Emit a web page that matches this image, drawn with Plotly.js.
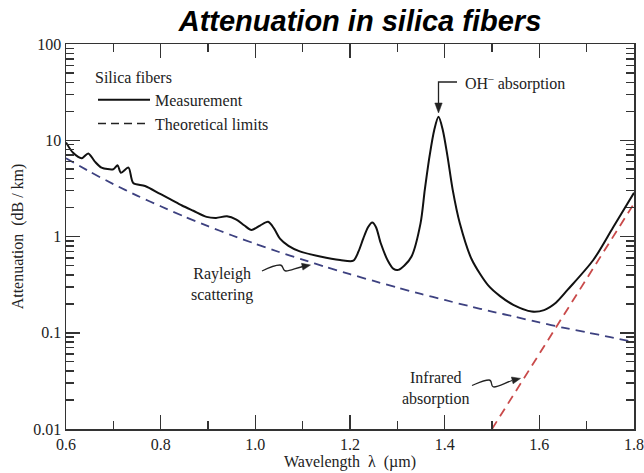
<!DOCTYPE html>
<html>
<head>
<meta charset="utf-8">
<script src="https://cdn.plot.ly/plotly-3.0.1.min.js"></script>
<style>html,body{margin:0;padding:0;background:#fff;}#chart{width:644px;height:473px;}</style>
</head>
<body>
<div id="chart"></div>
<script>
// Measured attenuation (dB/km) vs wavelength (µm)
var measWavelength = [0.600, 0.615, 0.633, 0.647, 0.661, 0.675, 0.700, 0.709, 0.716, 0.732, 0.742, 0.767, 0.799, 0.820, 0.845, 0.869, 0.897, 0.917, 0.940, 0.960, 0.977, 0.992, 1.010, 1.027, 1.040, 1.052, 1.070, 1.094, 1.137, 1.179, 1.207, 1.218, 1.228, 1.238, 1.247, 1.255, 1.265, 1.280, 1.292, 1.302, 1.315, 1.330, 1.349, 1.358, 1.368, 1.378, 1.387, 1.396, 1.406, 1.417, 1.432, 1.457, 1.492, 1.517, 1.545, 1.584, 1.610, 1.635, 1.660, 1.714, 1.756, 1.800];
var measAttenuation = [9.5, 7.4, 6.5, 7.3, 6.0, 5.2, 5.0, 5.5, 4.6, 5.2, 3.6, 3.35, 2.77, 2.45, 2.1, 1.85, 1.6, 1.56, 1.62, 1.5, 1.3, 1.17, 1.3, 1.42, 1.2, 0.95, 0.8, 0.70, 0.62, 0.57, 0.56, 0.7, 0.95, 1.25, 1.40, 1.25, 0.85, 0.56, 0.46, 0.45, 0.5, 0.62, 1.37, 3.05, 6.8, 12.8, 17.5, 12.8, 6.8, 3.05, 1.37, 0.58, 0.31, 0.24, 0.195, 0.166, 0.172, 0.205, 0.28, 0.57, 1.25, 2.85];

// Theoretical limit: Rayleigh scattering
var rayleighWavelength = [0.60, 0.65, 0.70, 0.75, 0.80, 0.85, 0.90, 0.95, 1.00, 1.05, 1.10, 1.15, 1.20, 1.25, 1.30, 1.35, 1.40, 1.45, 1.50, 1.55, 1.60, 1.65, 1.70, 1.75, 1.80];
var rayleighAttenuation = [6.5, 4.72, 3.5, 2.66, 2.06, 1.61, 1.28, 1.03, 0.84, 0.69, 0.575, 0.48, 0.406, 0.345, 0.295, 0.253, 0.219, 0.19, 0.166, 0.146, 0.128, 0.113, 0.101, 0.09, 0.080];

// Theoretical limit: Infrared absorption
var infraredWavelength = [1.50, 1.80];
var infraredAttenuation = [0.01, 2.2];

// Ticks
var xTickVals = [0.6, 0.8, 1.0, 1.2, 1.4, 1.6, 1.8];
var xTickText = ['0.6', '0.8', '1.0', '1.2', '1.4', '1.6', '1.8'];
var xMinorVals = [0.7, 0.9, 1.1, 1.3, 1.5, 1.7];
var yTickVals = [0.01, 0.1, 1, 10, 100];
var yTickText = ['0.01', '0.1', '1', '10', '100'];
var yMinorVals = [0.02,0.03,0.04,0.05,0.06,0.07,0.08,0.09,0.2,0.3,0.4,0.5,0.6,0.7,0.8,0.9,2,3,4,5,6,7,8,9,20,30,40,50,60,70,80,90];

var W = 644, H = 473;
var M = {l: 66, r: 10, t: 44, b: 44};
function px(x) { return (x - M.l) / (W - M.l - M.r); }
function py(y) { return (H - M.b - y) / (H - M.t - M.b); }
function curvePath(pts) {
  var s = 'M' + px(pts[0][0]) + ',' + py(pts[0][1]);
  for (var i = 1; i < pts.length; i += 3) {
    s += ' C' + px(pts[i][0]) + ',' + py(pts[i][1]) + ' ' + px(pts[i+1][0]) + ',' + py(pts[i+1][1]) + ' ' + px(pts[i+2][0]) + ',' + py(pts[i+2][1]);
  }
  return s;
}
function polyPath(pts) {
  var s = '';
  for (var i = 0; i < pts.length; i++) s += (i ? ' L' : 'M') + px(pts[i][0]) + ',' + py(pts[i][1]);
  return s + ' Z';
}

var serif = 'Liberation Serif, Times New Roman, serif';
var txtColor = '#222';
var ink = '#222';

var traces = [
  {
    x: rayleighWavelength, y: rayleighAttenuation, mode: 'lines', name: 'Rayleigh scattering',
    line: {color: '#3d4180', width: 1.8, dash: '9px,6px', shape: 'spline', smoothing: 0.6},
    showlegend: false
  },
  {
    x: infraredWavelength, y: infraredAttenuation, mode: 'lines', name: 'Infrared absorption',
    line: {color: '#c94a4a', width: 1.8, dash: '9px,6px'},
    showlegend: false
  },
  {
    x: measWavelength, y: measAttenuation, mode: 'lines', name: 'Measurement',
    line: {color: '#111', width: 2, shape: 'spline', smoothing: 0.8},
    showlegend: true
  },
  {
    x: [null], y: [null], mode: 'lines', name: 'Theoretical limits',
    line: {color: '#222', width: 1.6, dash: '8px,5px'},
    showlegend: true
  }
];

var layout = {
  width: W, height: H,
  margin: M,
  paper_bgcolor: '#fff', plot_bgcolor: '#fff',
  font: {family: serif, size: 16, color: txtColor},
  title: {
    text: 'Attenuation in silica fibers',
    font: {family: 'Liberation Sans, Arial, sans-serif', size: 29, weight: 'bold', style: 'italic', color: '#000'},
    x: 360 / 644, xref: 'container', xanchor: 'center',
    y: 1 - 21 / 473, yref: 'container', yanchor: 'middle'
  },
  showlegend: true,
  legend: {
    title: {text: 'Silica fibers', font: {family: serif, size: 16, color: txtColor}},
    x: px(93), y: py(62), xanchor: 'left', yanchor: 'top',
    bgcolor: 'rgba(0,0,0,0)', borderwidth: 0,
    font: {family: serif, size: 16, color: txtColor},
    itemwidth: 52, tracegroupgap: 0
  },
  xaxis: {
    range: [0.6, 1.8], tickmode: 'array', tickvals: xTickVals, ticktext: xTickText,
    ticks: 'inside', ticklen: 14, tickwidth: 1.5, tickcolor: '#333',
    showline: true, linewidth: 1.5, linecolor: '#333', mirror: 'ticks',
    showgrid: false, zeroline: false,
    minor: {tickmode: 'array', tickvals: xMinorVals, ticks: 'inside', ticklen: 8, tickwidth: 1.5, tickcolor: '#333', showgrid: false},
    tickfont: {family: serif, size: 16, color: txtColor},
    title: {text: 'Wavelength  λ  (µm)', font: {family: serif, size: 16, color: txtColor}, standoff: 4}
  },
  yaxis: {
    type: 'log', range: [-2, 2], tickmode: 'array', tickvals: yTickVals, ticktext: yTickText,
    ticks: 'inside', ticklen: 14, tickwidth: 1.5, tickcolor: '#333',
    showline: true, linewidth: 1.5, linecolor: '#333', mirror: 'ticks',
    showgrid: false, zeroline: false,
    minor: {tickmode: 'array', tickvals: yMinorVals, ticks: 'inside', ticklen: 8, tickwidth: 1.5, tickcolor: '#333', showgrid: false},
    tickfont: {family: serif, size: 16, color: txtColor},
    title: {text: 'Attenuation  (dB / km)', font: {family: serif, size: 16, color: txtColor}, standoff: 5}
  },
  shapes: [
    // OH- elbow pointer
    {type: 'path', xref: 'paper', yref: 'paper', line: {color: ink, width: 1.3},
     path: 'M' + px(457) + ',' + py(82) + ' L' + px(438.5) + ',' + py(82) + ' L' + px(438.5) + ',' + py(104)},
    {type: 'path', xref: 'paper', yref: 'paper', line: {color: ink, width: 0.5}, fillcolor: ink,
     path: polyPath([[434.8, 103], [442.2, 103], [438.5, 113]])},
    // Rayleigh squiggle pointer
    {type: 'path', xref: 'paper', yref: 'paper', line: {color: ink, width: 1.3},
     path: curvePath([[262,271],[268,268],[274,265],[280,265],[284,265],[282,271],[286,271],[290,271],[296,268],[303,266.5]])},
    {type: 'path', xref: 'paper', yref: 'paper', line: {color: ink, width: 0.5}, fillcolor: ink,
     path: polyPath([[310.5, 265], [302.9, 270.1], [301.5, 263.3]])},
    // Infrared squiggle pointer
    {type: 'path', xref: 'paper', yref: 'paper', line: {color: ink, width: 1.3},
     path: curvePath([[472,385.5],[478,383],[484,380],[489,380],[493,380],[490,387],[494,387],[498,387],[503,384],[512,380.5]])},
    {type: 'path', xref: 'paper', yref: 'paper', line: {color: ink, width: 0.5}, fillcolor: ink,
     path: polyPath([[520.5, 378.4], [513.1, 383.8], [511.4, 377.0]])}
  ],
  annotations: [
    {xref: 'x', yref: 'y', x: 0.6 + (463 - 66) / 473.33, y: 2 - (82 - 44) / 96.25, text: 'OH<sup>–</sup> absorption', showarrow: false,
     xanchor: 'left', yanchor: 'middle', font: {family: serif, size: 16, color: txtColor}},
    {xref: 'x', yref: 'y', x: 0.6 + (222 - 66) / 473.33, y: 2 - (284 - 44) / 96.25, text: 'Rayleigh<br>scattering', showarrow: false,
     xanchor: 'center', yanchor: 'middle', align: 'center', font: {family: serif, size: 16, color: txtColor}},
    {xref: 'x', yref: 'y', x: 0.6 + (436 - 66) / 473.33, y: 2 - (388 - 44) / 96.25, text: 'Infrared<br>absorption', showarrow: false,
     xanchor: 'center', yanchor: 'middle', align: 'center', font: {family: serif, size: 16, color: txtColor}}
  ]
};

Plotly.newPlot('chart', traces, layout, {staticPlot: true, displayModeBar: false});
</script>
</body>
</html>
